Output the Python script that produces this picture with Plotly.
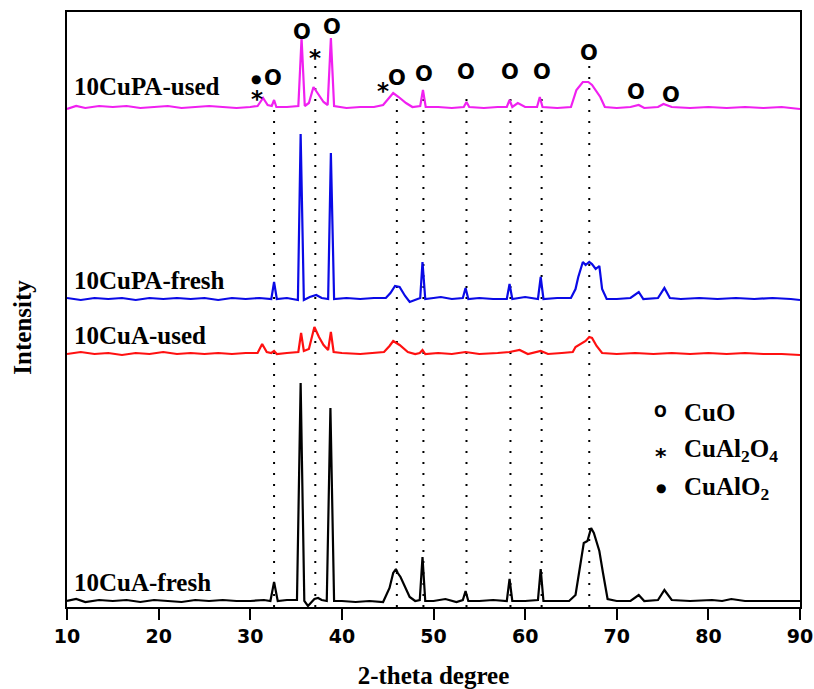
import plotly.graph_objects as go

# ---------------- data ----------------
x_ticks = [10, 20, 30, 40, 50, 60, 70, 80, 90]

# (2-theta, intensity above the pattern's own baseline)
cua_fresh = [(10,2),(11,4),(12,1),(13.5,3),(15,2),(16.5,3),(18,1),(19.5,3),(21,2),(22.5,1),(24,3),(25.5,2),
             (27,3),(28.5,2),(30,2),(31.5,3),(32.2,2),(32.6,21),(33.0,2),(34,3),(35.1,3),(35.5,220),(35.9,2),
             (36.3,-3),(37.0,4),(37.4,5),(37.8,3),(38.35,2),(38.75,195),(39.15,2),(40,2),(41.5,1),(43,2),
             (44.5,1),(45.2,15),(45.6,30),(45.9,34),(46.1,30),(46.4,26),(46.9,16),(47.4,6),(48.0,2),(48.5,3),
             (48.8,46),(49.1,2),(50,2),(51.3,4),(52.5,1),(53.2,3),(53.5,12),(53.8,2),(55,2),(56.5,3),(58.0,2),
             (58.3,24),(58.6,2),(60,2),(61.4,3),(61.7,34),(62.0,2),(63.5,2),(64.8,2),(65.5,8),(66.0,35),
             (66.4,60),(66.8,62),(67.2,75),(67.5,70),(68.1,52),(68.5,30),(69.0,4),(70,2),(71.5,2),(72.4,8),
             (73,2),(74.5,3),(75.2,13),(76,3),(78,2),(80.4,3),(81.5,2),(82.5,4),(84,2),(86,2),(88,2),(90,2)]

cua_used = [(10,1),(11.5,3),(13,1),(14.5,2),(16,0),(17.5,2),(19,1),(20.5,3),(22,1),(23.5,2),(25,1),(26.5,2),
            (28,1),(29.5,2),(30.8,2),(31.3,11),(31.8,3),(32.3,2),(32.6,4),(32.9,1),(34,2),(35.25,3),(35.55,22),
            (35.85,4),(36.4,6),(37.0,28),(37.5,18),(38.0,10),(38.5,5),(38.8,23),(39.1,3),(40,2),(42,1),(43.5,2),
            (44.6,3),(45.2,9),(45.6,14),(46.3,10),(47.2,3),(48.0,1),(48.5,2),(48.8,5),(49.1,1),(50.5,2),(52,1),
            (53.5,3),(55,1),(57,2),(58.3,3),(59.4,5),(60.3,1),(61.7,4),(62.5,1),(64,2),(65.2,3),(65.5,8),
            (66.1,11),(66.6,14),(67.0,18),(67.3,17),(67.8,9),(68.4,2),(70,1),(72,2),(74,1),(76,2),(78,1),(80,2),
            (82,1),(84,2),(86,1),(88,1),(90,0)]

cupa_fresh = [(10,1),(11.5,-1),(13,1),(14.5,0),(16,1),(17.5,-1),(19,1),(20.5,0),(22,1),(23.5,0),(25,1),
              (26.5,-1),(28,1),(29.5,0),(31,1),(32.3,0),(32.6,17),(32.9,0),(34,1),(35.2,-1),(35.5,165),
              (35.85,-1),(36.5,2),(37.2,4),(37.8,1),(38.5,0),(38.8,146),(39.15,0),(40.5,1),(42,0),(43.5,1),
              (44.8,1),(45.3,6),(45.8,13),(46.3,12),(46.9,3),(47.4,-3),(48.2,0),(48.55,1),(48.8,37),(49.1,0),
              (50,1),(50.8,2),(52,0),(53.2,1),(53.5,11),(53.8,0),(55,1),(56.5,0),(58.0,0),(58.3,15),(58.6,0),
              (60,2),(61.4,0),(61.7,22),(62.0,0),(63.5,1),(65.0,1),(65.5,10),(65.8,22),(66.3,37),(66.6,34),
              (67.0,37),(67.3,35),(67.7,30),(68.1,33),(68.4,10),(68.9,0),(70,0),(71.5,1),(72.4,7),(72.9,0),
              (74.5,1),(75.2,11),(75.8,1),(77,0),(79,1),(81,0),(83,1),(85,0),(87,1),(89,0),(90,-1)]

cupa_used = [(10,-1),(11,2),(12,0),(13.5,2),(15,1),(16.5,2),(18,0),(19.5,1),(21,2),(22.5,0),(24,1),(25.5,2),
             (27,1),(28.5,0),(30,1),(30.8,2),(31.4,10),(31.9,3),(32.35,2),(32.6,8),(32.85,1),(34,1),(35.25,2),
             (35.6,70),(35.95,2),(36.4,5),(36.9,21),(37.5,13),(38.0,6),(38.45,3),(38.8,70),(39.15,2),(40.5,0),
             (42,1),(43.5,1),(44.5,3),(45.0,8),(45.6,15),(46.2,11),(47.0,5),(47.7,1),(48.55,2),(48.85,18),
             (49.15,1),(50.5,1),(52,0),(53.3,1),(53.6,6),(53.9,1),(55.5,0),(57,1),(58.0,1),(58.3,8),(58.6,1),
             (59.2,5),(60,1),(61.3,1),(61.6,11),(61.9,1),(63.5,0),(65.0,1),(65.6,18),(66.3,26),(66.9,26),
             (67.3,23),(67.8,17),(68.2,11),(68.7,1),(70,0),(71.5,1),(72.4,3),(73,0),(74.5,1),(75.1,4),(76,1),
             (78,0),(80,1),(82,0),(84,1),(86,0),(88,1),(90,-1)]

series_names = ["10CuA-fresh", "10CuA-used", "10CuPA-fresh", "10CuPA-used"]
series_data = [cua_fresh, cua_used, cupa_fresh, cupa_used]
series_offsets = [4, 252, 308, 499]
series_colors = ["#000000", "#ff1010", "#0a0ae6", "#f020f0"]
label_y = [25, 272, 327, 521]

# reference (dotted) lines: position and top
ref_x = [32.6, 37.1, 46.0, 48.9, 53.6, 58.4, 61.8, 67.0]
ref_top = [500, 542, 517, 517, 517, 517, 517, 544]

# phase markers on the top pattern
cuo_x = [32.5, 35.6, 38.9, 46.0, 48.95, 53.6, 58.4, 61.8, 67.0, 72.1, 75.9]
cuo_y = [529, 575, 580, 529, 533, 535, 535, 535, 554, 515, 512]
spinel_x = [30.7, 37.1, 44.5]
spinel_y = [514, 555, 522]
delaf_x = [30.6]
delaf_y = [528]

legend_labels = ["CuO", "CuAl<sub>2</sub>O<sub>4</sub>", "CuAlO<sub>2</sub>"]
legend_symbols = ["o", "*", "•"]
legend_y = [195, 157, 119]
legend_sym_x = 74.8
legend_text_x = 77.1

# ---------------- figure ----------------
fig = go.Figure()

for xr, top in zip(ref_x, ref_top):
    fig.add_trace(go.Scatter(x=[xr, xr], y=[0, top], mode="lines",
                             line=dict(color="black", width=2, dash="2px,9px"),
                             hoverinfo="skip", showlegend=False))

for name, data, off, col in zip(series_names, series_data, series_offsets, series_colors):
    xs = [p[0] for p in data]
    ys = [p[1] + off for p in data]
    fig.add_trace(go.Scatter(x=xs, y=ys, mode="lines", name=name,
                             line=dict(color=col, width=2.2), showlegend=False))

serif = dict(family="Liberation Serif", size=25, color="black", weight="bold")
ann = []
for name, ly in zip(series_names, label_y):
    ann.append(dict(x=10.55, y=ly, text=name, showarrow=False, xanchor="left", yanchor="middle", font=serif))

sym_font = dict(family="DejaVu Sans", size=21, color="black", weight="bold")
for x, y in zip(cuo_x, cuo_y):
    ann.append(dict(x=x, y=y, text="O", showarrow=False, xanchor="center", yanchor="middle", font=sym_font))
for x, y in zip(spinel_x, spinel_y):
    ann.append(dict(x=x, y=y - 6, text="*", showarrow=False, xanchor="center", yanchor="middle",
                    font=dict(family="DejaVu Sans", size=23, color="black", weight="bold")))
for x, y in zip(delaf_x, delaf_y):
    ann.append(dict(x=x, y=y, text="●", showarrow=False, xanchor="center", yanchor="middle",
                    font=dict(family="DejaVu Sans", size=12, color="black")))

for sym, lab, ly in zip(legend_symbols, legend_labels, legend_y):
    if sym == "o":
        ann.append(dict(x=legend_sym_x, y=ly, text="O", showarrow=False, xanchor="center", yanchor="middle",
                        font=dict(family="DejaVu Sans", size=15, color="black", weight="bold")))
    elif sym == "*":
        ann.append(dict(x=legend_sym_x, y=ly - 6, text="*", showarrow=False, xanchor="center", yanchor="middle",
                        font=dict(family="DejaVu Sans", size=22, color="black", weight="bold")))
    else:
        ann.append(dict(x=legend_sym_x, y=ly, text="●", showarrow=False, xanchor="center", yanchor="middle",
                        font=dict(family="DejaVu Sans", size=12, color="black")))
    ann.append(dict(x=legend_text_x, y=ly, text=lab, showarrow=False, xanchor="left", yanchor="middle",
                    font=serif))

# y-axis title, placed as in the reference (slightly below the middle)
ann.append(dict(xref="paper", yref="paper", x=-0.061, y=0.47, text="Intensity", textangle=-90,
                showarrow=False, xanchor="center", yanchor="middle", font=serif))

fig.update_layout(
    width=814, height=689,
    margin=dict(l=67, r=14, t=12, b=82),
    paper_bgcolor="white", plot_bgcolor="white",
    annotations=ann,
    xaxis=dict(range=[10, 90], tickvals=x_ticks, ticks="outside", ticklen=11, tickwidth=2,
               tickcolor="black", showline=True, linecolor="black", linewidth=2, mirror=True,
               showgrid=False, zeroline=False, automargin=False,
               tickfont=dict(family="DejaVu Sans", size=19, color="black", weight="bold"),
               title=dict(text="2-theta degree", standoff=24,
                          font=dict(family="Liberation Serif", size=25, color="black", weight="bold"))),
    yaxis=dict(range=[0, 595], showticklabels=False, ticks="", showline=True, linecolor="black",
               linewidth=2, mirror=True, showgrid=False, zeroline=False, automargin=False),
)

fig.write_html("out.html")
